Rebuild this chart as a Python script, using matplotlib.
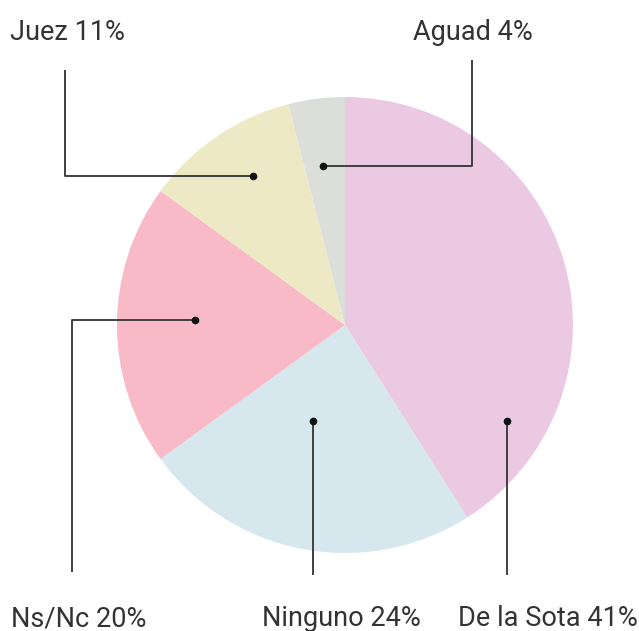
import matplotlib.pyplot as plt

# Datos del gráfico
labels = ['De la Sota 41%', 'Ninguno 24%', 'Ns/Nc 20%', 'Juez 11%', 'Aguad 4%']
values = [41, 24, 20, 11, 4]
colors = ['#ecc9e3', '#d7e7ee', '#f8bac7', '#eee9c5', '#dcdfd9']

W, H = 639, 631
fig = plt.figure(figsize=(W / 100, H / 100), dpi=100)
ax = fig.add_axes([0, 0, 1, 1])

cx, cy, r = 345, H - 325, 228
ax.pie(values, colors=colors, startangle=90, counterclock=False,
       center=(cx, cy), radius=r, frame=True,
       wedgeprops=dict(linewidth=0))
ax.set_xlim(0, W)
ax.set_ylim(0, H)
ax.set_aspect('equal')
ax.axis('off')

font = ['Roboto', 'DejaVu Sans']
lc = '#333333'

# líneas guía (en píxeles desde arriba a la izquierda)
leaders = {
    'Juez 11%': [(253, 176), (65, 176), (65, 70)],
    'Aguad 4%': [(323, 166), (472, 166), (472, 60)],
    'Ns/Nc 20%': [(195, 320), (72, 320), (72, 572)],
    'Ninguno 24%': [(313, 421), (313, 575)],
    'De la Sota 41%': [(507, 421), (507, 575)],
}
text_pos = {
    'Juez 11%': (10, 40, 'left'),
    'Aguad 4%': (413, 40, 'left'),
    'Ns/Nc 20%': (11, 626, 'left'),
    'Ninguno 24%': (262, 626, 'left'),
    'De la Sota 41%': (638, 626, 'right'),
}

for lab in labels:
    pts = leaders[lab]
    xs = [p[0] for p in pts]
    ys = [H - p[1] for p in pts]
    ax.plot(xs, ys, color=lc, lw=1.3, solid_capstyle='butt')
    ax.plot(xs[0], ys[0], 'o', color='#111111', ms=4.5)
    tx, ty, ha = text_pos[lab]
    ax.text(tx, H - ty, lab, ha=ha, va='baseline', fontsize=19.5,
            family=font, color='#333333')

fig.savefig('out.png', dpi=100)
